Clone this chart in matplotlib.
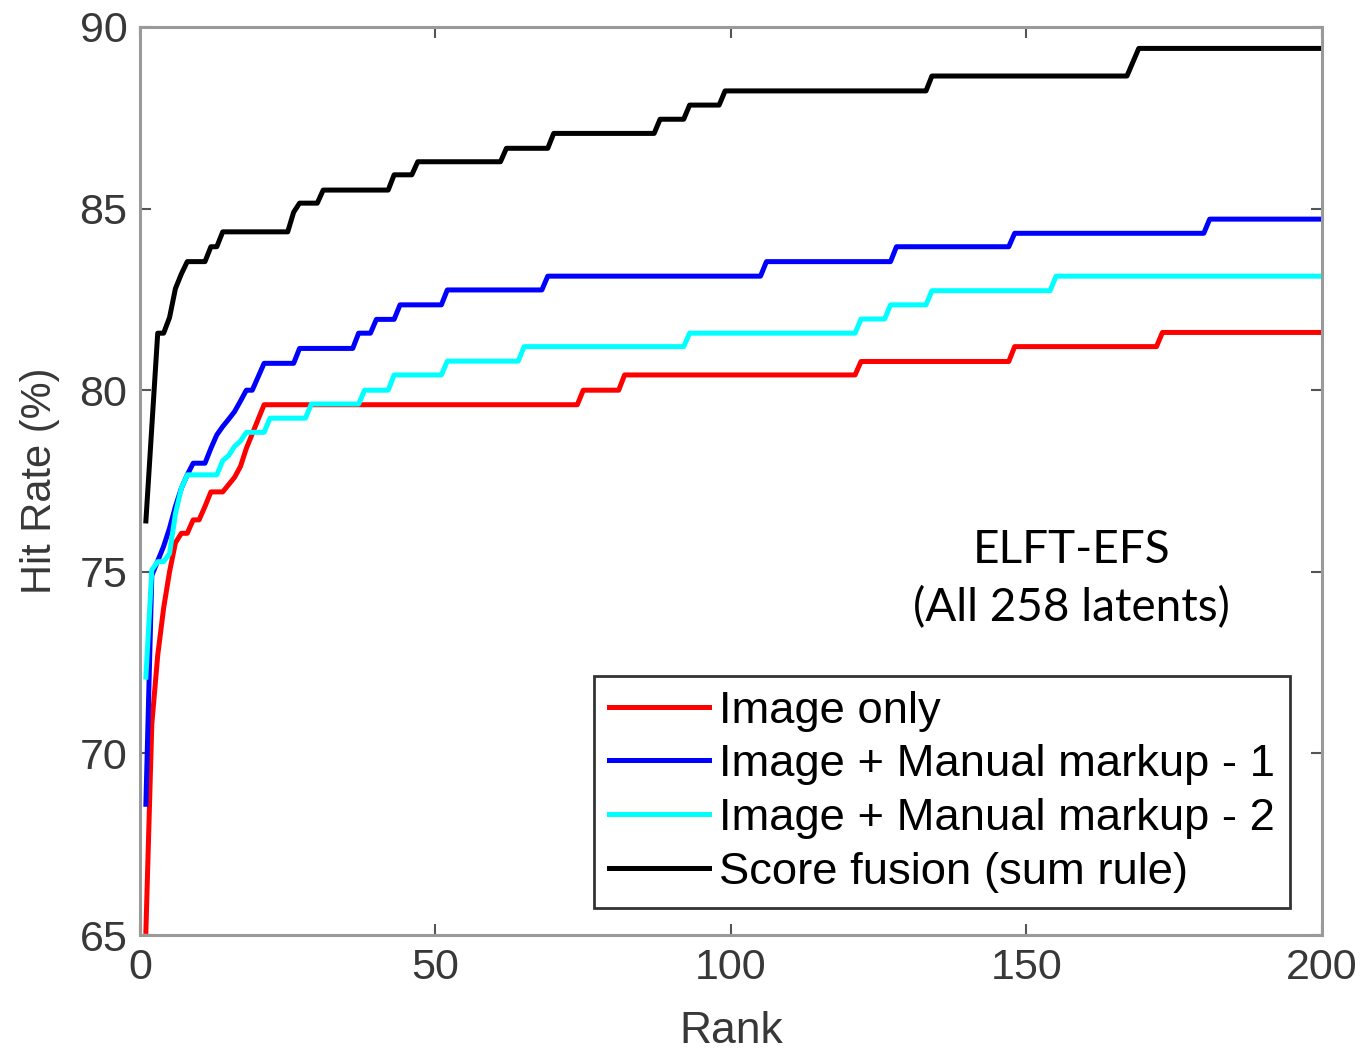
import matplotlib
matplotlib.use("Agg")
import matplotlib.pyplot as plt
import numpy as np

# CMC curves: rank where the hit rate changes, and the new hit rate (%)
image_only_ranks = [1, 2, 3, 4, 5, 6, 7, 9, 11, 12, 15, 16, 17, 18, 19, 20, 21,
                    75, 82, 122, 148, 173]
image_only_vals = [65.1, 70.8, 72.7, 74.0, 75.0, 75.8, 76.06, 76.43, 76.8, 77.2, 77.4,
                   77.6, 77.9, 78.4, 78.8, 79.2, 79.6,
                   80.0, 80.42, 80.79, 81.2, 81.59]

markup1_ranks = [1, 2, 3, 4, 5, 6, 7, 8, 9, 12, 13, 14, 15, 16, 17, 18, 20, 21,
                 27, 37, 40, 44, 52, 69, 106, 128, 148, 181]
markup1_vals = [68.6, 74.9, 75.3, 75.7, 76.2, 76.8, 77.3, 77.67, 77.99, 78.4, 78.77,
                79.0, 79.2, 79.41, 79.7, 80.0, 80.37, 80.74,
                81.15, 81.57, 81.95, 82.35, 82.76, 83.14, 83.54, 83.95, 84.32, 84.71]

markup2_ranks = [1, 2, 3, 5, 6, 7, 8, 14, 15, 16, 17, 18, 22, 29, 38, 43, 52, 65,
                 93, 122, 127, 134, 155]
markup2_vals = [72.1, 75.05, 75.28, 75.5, 76.6, 77.3, 77.67, 78.06, 78.2, 78.45, 78.6,
                78.84, 79.23, 79.62, 80.0, 80.42, 80.8, 81.2,
                81.57, 81.96, 82.35, 82.74, 83.14]

fusion_ranks = [1, 2, 3, 5, 6, 7, 8, 12, 14, 26, 27, 31, 43, 47, 62, 70, 88, 93,
                99, 134, 168, 169]
fusion_vals = [76.4, 79.0, 81.57, 82.0, 82.8, 83.2, 83.54, 83.95, 84.36, 84.9, 85.15,
               85.51, 85.93, 86.29, 86.66, 87.07, 87.46, 87.85,
               88.24, 88.65, 89.03, 89.41]

labels = ["Image only", "Image + Manual markup - 1",
          "Image + Manual markup - 2", "Score fusion (sum rule)"]
colors = ["#ff0000", "#0000ff", "#00ffff", "#000000"]

rank = np.arange(1, 201)


def expand(change_ranks, change_vals):
    # hit rate stays constant between the ranks where it changes
    idx = np.searchsorted(change_ranks, rank, side="right") - 1
    return np.asarray(change_vals)[idx]


series = [(image_only_ranks, image_only_vals), (markup1_ranks, markup1_vals),
          (markup2_ranks, markup2_vals), (fusion_ranks, fusion_vals)]

plt.rcParams["font.family"] = ["Liberation Sans", "DejaVu Sans"]

fig = plt.figure(figsize=(13.63, 10.5), dpi=100)
ax = fig.add_axes([0.1027, 0.1095, 0.8672, 0.8648])

for (r, v), lab, c in zip(series, labels, colors):
    ax.plot(rank, expand(r, v), color=c, lw=3.6, label=lab, solid_joinstyle="round")

ax.set_xlim(0, 200)
ax.set_ylim(65, 90)
ax.set_xticks([0, 50, 100, 150, 200])
ax.set_yticks([65, 70, 75, 80, 85, 90])

axis_gray = "#9a9a9a"
text_gray = "#383838"
for s in ax.spines.values():
    s.set_color(axis_gray)
    s.set_linewidth(2.2)
ax.tick_params(direction="in", length=8, width=1.5, color="#555555",
               labelsize=31, labelcolor=text_gray, pad=9,
               top=True, right=True)

ax.set_xlabel("Rank", fontsize=32, color=text_gray)
ax.set_ylabel("Hit Rate (%)", fontsize=30, color=text_gray)
ax.xaxis.set_label_coords(0.5, -0.084)
ax.yaxis.set_label_coords(-0.068, 0.5)

ax.text(0.788, 0.392, "ELFT-EFS\n(All 258 latents)", transform=ax.transAxes,
        ha="center", va="center", fontsize=33, family=["Lato", "DejaVu Sans"],
        linespacing=1.45, color="black")

leg = ax.legend(loc="lower right", bbox_to_anchor=(0.973, 0.03), borderaxespad=0,
                fontsize=32.7, handlelength=2.2, handletextpad=0.22,
                labelspacing=0.28, borderpad=0.33, fancybox=False,
                framealpha=1, labelcolor="black")
leg.get_frame().set_edgecolor("#333333")
leg.get_frame().set_linewidth(2)
for line in leg.get_lines():
    line.set_linewidth(3.6)

fig.savefig("out.png", dpi=100)
